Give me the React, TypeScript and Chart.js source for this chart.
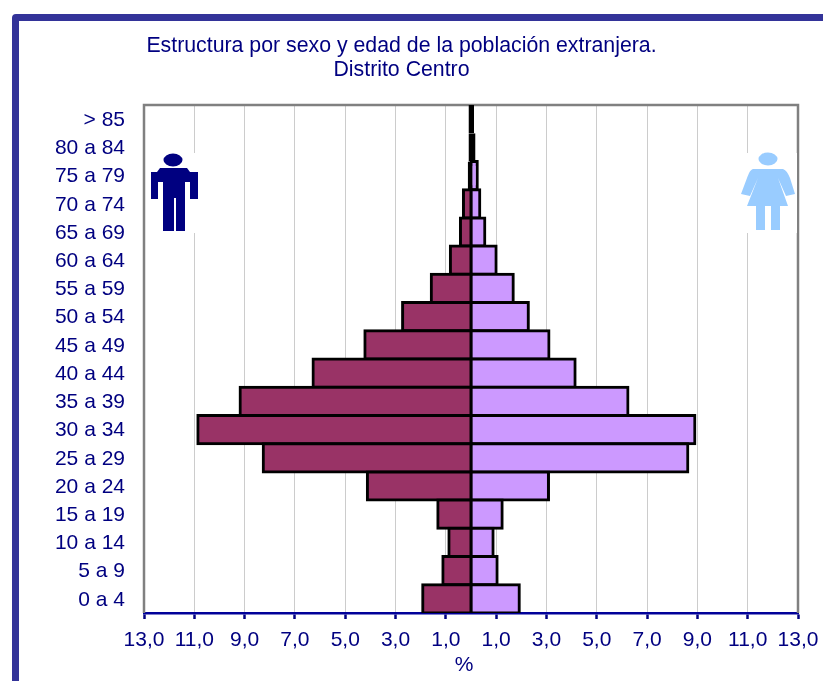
import React, { useEffect, useRef } from "react";
import { Chart, registerables } from "chart.js";

Chart.register(...registerables);

const ageGroups = ["> 85", "80 a 84", "75 a 79", "70 a 74", "65 a 69", "60 a 64", "55 a 59", "50 a 54", "45 a 49", "40 a 44", "35 a 39", "30 a 34", "25 a 29", "20 a 24", "15 a 19", "10 a 14", "5 a 9", "0 a 4"];
const men = [0.1, 0.1, 0.13, 0.3, 0.42, 0.82, 1.58, 2.72, 4.22, 6.28, 9.18, 10.86, 8.26, 4.12, 1.32, 0.88, 1.12, 1.92];
const women = [0.12, 0.18, 0.25, 0.35, 0.55, 1.0, 1.68, 2.28, 3.1, 4.14, 6.24, 8.9, 8.62, 3.08, 1.24, 0.88, 1.04, 1.92];
const percentTicks = [-13, -11, -9, -7, -5, -3, -1, 1, 3, 5, 7, 9, 11, 13];
const titleLines = ["Estructura por sexo y edad de la población extranjera.", "Distrito Centro"];

const NAVY = "#000080";
const FONT = "'Liberation Sans', Arial, sans-serif";

const plotFrame = {
  id: "plotFrame",
  beforeDatasetsDraw(chart: any) {
    const { ctx, chartArea: a } = chart;
    ctx.save();
    ctx.strokeStyle = "#808080";
    ctx.lineWidth = 2.5;
    ctx.beginPath();
    ctx.moveTo(a.left, a.bottom);
    ctx.lineTo(a.left, a.top);
    ctx.lineTo(a.right, a.top);
    ctx.lineTo(a.right, a.bottom);
    ctx.stroke();
    ctx.restore();
  },
};

export default function App() {
  const ref = useRef<HTMLCanvasElement>(null);
  useEffect(() => {
    const common = {
      stack: "p",
      borderColor: "#000000",
      borderWidth: 3,
      borderSkipped: false,
      inflateAmount: (c: any) => (Math.abs(c.raw) < 0.2 ? 0 : 1.5),
      barPercentage: 1,
      categoryPercentage: 1,
    };
    const chart = new Chart(ref.current!, {
      type: "bar",
      data: {
        labels: ageGroups,
        datasets: [
          { label: "Hombres", data: men.map((v) => -v), backgroundColor: "#993366", ...common },
          { label: "Mujeres", data: women, backgroundColor: "#CC99FF", ...common },
        ],
      } as any,
      plugins: [plotFrame],
      options: {
        indexAxis: "y",
        responsive: false,
        animation: false,
        layout: { padding: { left: 5, right: 25, top: 34, bottom: 0 } },
        plugins: {
          legend: { display: false },
          tooltip: { enabled: false },
          title: {
            display: true,
            text: titleLines,
            color: NAVY,
            font: { family: FONT, size: 21.3, weight: "normal", lineHeight: "24px" },
            padding: { top: 0, bottom: 23 },
          },
        },
        scales: {
          x: {
            type: "linear",
            min: -13,
            max: 13,
            stacked: true,
            afterBuildTicks(s: any) {
              s.ticks = percentTicks.map((value) => ({ value }));
            },
            afterFit(s: any) {
              s.height = 68;
              s.paddingLeft = 0;
              s.paddingRight = 0;
              if (!s.__shifted) {
                s.__shifted = true;
                const orig = s.drawTitle;
                s.drawTitle = function () {
                  s.ctx.save();
                  s.ctx.translate(-7, 0);
                  orig.call(s);
                  s.ctx.restore();
                };
              }
            },
            grid: { color: "#cccccc", lineWidth: 1, tickColor: NAVY, tickLength: 6, tickWidth: 2.5 },
            border: { color: "#000099", width: 2.5 },
            ticks: {
              color: NAVY,
              autoSkip: false,
              maxRotation: 0,
              padding: 9,
              font: { family: FONT, size: 21 },
              callback: (v: any) => Math.abs(Number(v)).toFixed(1).replace(".", ","),
            },
            title: {
              display: true,
              text: "%",
              color: NAVY,
              font: { family: FONT, size: 21 },
              padding: { top: 0, bottom: 3 },
            },
          },
          y: {
            type: "category",
            stacked: true,
            afterFit(s: any) {
              s.width = 139;
            },
            grid: { display: false, drawTicks: false },
            border: { display: false },
            ticks: {
              color: NAVY,
              autoSkip: false,
              padding: 19,
              labelOffset: 1,
              font: { family: FONT, size: 21 },
            },
          },
        },
      } as any,
    });
    return () => chart.destroy();
  }, []);

  return (
    <div style={{ position: "absolute", left: 0, top: 0, width: 823, height: 681, overflow: "hidden", background: "#fff" }}>
      <div
        style={{
          position: "absolute",
          left: 12,
          top: 14,
          width: 900,
          height: 800,
          border: "7px solid #333399",
          borderRadius: 4,
          boxSizing: "border-box",
        }}
      />
      <canvas ref={ref} width={823} height={681} style={{ position: "absolute", left: 0, top: 0, display: "block" }} />
      <svg width={823} height={681} style={{ position: "absolute", left: 0, top: 0, pointerEvents: "none" }}>
        <rect x={147} y={153} width={55} height={80} fill="#fff" />
        <ellipse cx={173} cy={160} rx={9.5} ry={6.5} fill={NAVY} />
        <path
          d="M160 168 H187 L190 172 H198 V199 H190 V182 H185 V231 H176 V198 H174 V231 H163 V182 H158 V199 H151 V172 H157 Z"
          fill={NAVY}
        />
        <rect x={740} y={153} width={57} height={80} fill="#fff" />
        <ellipse cx={768} cy={159} rx={9.5} ry={6.5} fill="#99CCFF" />
        <path
          d="M753 169 H783 C786 170 788 173 790 178 L795 194 L786 196 L778 178 L788 206 H780 V230 H771 V206 H765 V230 H756 V206 H747 L758 178 L750 196 L741 194 L747 178 C749 173 750 170 753 169 Z"
          fill="#99CCFF"
        />
      </svg>
    </div>
  );
}
